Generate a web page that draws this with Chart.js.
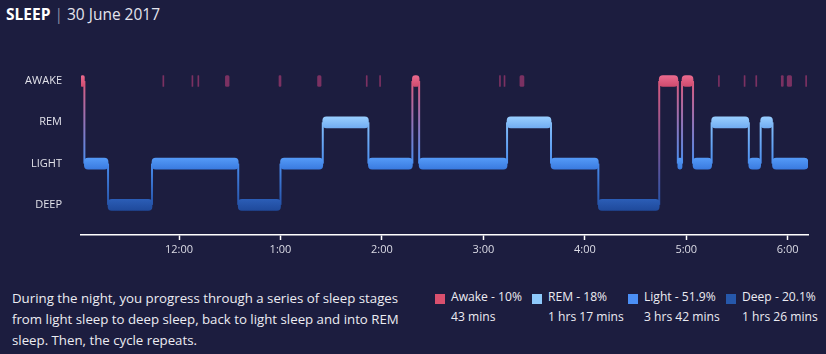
<!DOCTYPE html>
<html>
<head>
<meta charset="utf-8">
<script src="https://cdn.jsdelivr.net/npm/chart.js@4.4.0/dist/chart.umd.min.js"></script>
<style>
    html, body { margin: 0; padding: 0; background: #1c1d3f; }
    body { width: 826px; height: 354px; position: relative; overflow: hidden; font-family: 'Open Sans', sans-serif; color: #e8e8f0; }
    #title { position: absolute; left: 6px; top: 4px; font-size: 15.5px; line-height: 20px; color: #e4e4ee; white-space: nowrap; }
    #title b { color: #fff; font-weight: 700; }
    #title .sep { color: #8a8aa4; }
    #chart-wrap { position: absolute; left: 0; top: 0; width: 826px; height: 270px; }
    #note { position: absolute; left: 12px; top: 288px; width: 410px; font-size: 13.25px; line-height: 21px; color: #ececf2; }
    .legend-item { position: absolute; top: 287px; font-size: 12.1px; line-height: 20px; color: #ececf2; white-space: nowrap; }
    .legend-item .sw { position: absolute; left: 0; top: 7px; width: 10px; height: 10px; }
    .legend-item .txt { position: absolute; left: 16px; top: 0; }
</style>
</head>
<body>
<div id="title"><b>SLEEP</b> <span class="sep">|</span> 30 June 2017</div>
<div id="chart-wrap"><canvas id="sleepChart" width="826" height="270"></canvas></div>
<div id="note">During the night, you progress through a series of sleep stages from light sleep to deep sleep, back to light sleep and into REM sleep. Then, the cycle repeats.</div>
<div id="legend"></div>

<script>
// stages from bottom to top of the y axis
const stageNames = ['DEEP', 'LIGHT', 'REM', 'AWAKE'];

// main hypnogram: stage of each segment, boundaries in minutes after midnight
const segStages = ['AWAKE', 'LIGHT', 'DEEP', 'LIGHT', 'DEEP', 'LIGHT', 'REM', 'LIGHT', 'AWAKE', 'LIGHT',
    'REM', 'LIGHT', 'DEEP', 'AWAKE', 'LIGHT', 'AWAKE', 'LIGHT', 'REM', 'LIGHT', 'REM', 'LIGHT'];
const segBounds = [-58, -56, -42, -16, 35, 60, 85, 112, 138, 142, 194, 220, 248, 284, 295, 297.5, 304,
    315, 337, 344, 351, 372];

// short wakes shown as marks on the AWAKE row
const wakeStarts = [-9.6, 7.6, 11.1, 27.4, 59.1, 81.9, 110.7, 118.6, 189.5, 192.2, 201.6, 319.0, 334.2, 341.1, 356.2, 359.7, 370.6];
const wakeEnds = [-9.0, 8.2, 11.7, 29.6, 60.3, 84.0, 111.3, 119.2, 190.1, 192.8, 204.0, 319.6, 334.8, 341.7, 357.4, 362.3, 371.2];

// x axis
const tickValues = [0, 60, 120, 180, 240, 300, 360];
const tickLabels = ['12:00', '1:00', '2:00', '3:00', '4:00', '5:00', '6:00'];

// legend
const legendNames = ['Awake - 10%', 'REM - 18%', 'Light - 51.9%', 'Deep - 20.1%'];
const legendDurations = ['43 mins', '1 hrs 17 mins', '3 hrs 42 mins', '1 hrs 26 mins'];

const stageTop = { AWAKE: '#ea6a8e', REM: '#98ceff', LIGHT: '#549af7', DEEP: '#2b5db6' };
const stageBottom = { AWAKE: '#cf4b6e', REM: '#72adf2', LIGHT: '#3a7be0', DEEP: '#1f4a9c' };
const stageMid = { AWAKE: '#dc5a7e', REM: '#86bff9', LIGHT: '#4a8ef0', DEEP: '#2552a8' };
const legendColors = ['#d9506e', '#8ec9fb', '#4b8ff5', '#2658ab'];

function bandFill(c) {
    const chart = c.chart;
    const st = c.raw ? c.raw.stage : 'LIGHT';
    if (!chart.chartArea) return stageMid[st];
    const yc = chart.scales.y.getPixelForValue(stageNames.indexOf(st));
    const g = chart.ctx.createLinearGradient(0, yc - 5.5, 0, yc + 5.5);
    g.addColorStop(0, stageTop[st]);
    g.addColorStop(1, stageBottom[st]);
    return g;
}

// vertical links between consecutive segments
const connectorPlugin = {
    id: 'connectors',
    beforeDatasetsDraw(chart) {
        const { ctx, scales: { x, y } } = chart;
        ctx.save();
        ctx.lineWidth = 2;
        for (let i = 1; i < segStages.length; i++) {
            const px = x.getPixelForValue(segBounds[i]);
            const y1 = y.getPixelForValue(stageNames.indexOf(segStages[i - 1]));
            const y2 = y.getPixelForValue(stageNames.indexOf(segStages[i]));
            const g = ctx.createLinearGradient(0, y1, 0, y2);
            g.addColorStop(0, stageMid[segStages[i - 1]]);
            g.addColorStop(1, stageMid[segStages[i]]);
            ctx.strokeStyle = g;
            ctx.beginPath();
            ctx.moveTo(px, y1);
            ctx.lineTo(px, y2);
            ctx.stroke();
        }
        ctx.restore();
    }
};

function buildLegend() {
    const xs = [435, 532, 628, 726];
    const box = document.getElementById('legend');
    legendNames.forEach((name, i) => {
        const item = document.createElement('div');
        item.className = 'legend-item';
        item.style.left = xs[i] + 'px';
        item.innerHTML = '<span class="sw" style="background:' + legendColors[i] + '"></span>' +
            '<span class="txt">' + name + '<br>' + legendDurations[i] + '</span>';
        box.appendChild(item);
    });
}

document.addEventListener('DOMContentLoaded', function() {
    buildLegend();

    const segments = segStages.map((st, i) => ({
        x: [segBounds[i], segBounds[i + 1]],
        y: stageNames.indexOf(st),
        stage: st
    }));
    const wakes = wakeStarts.map((s, i) => ({
        x: [s, wakeEnds[i]],
        y: stageNames.indexOf('AWAKE')
    }));

    new Chart(document.getElementById('sleepChart'), {
        type: 'bar',
        data: {
            datasets: [{
                label: 'Short wakes',
                data: wakes,
                backgroundColor: '#7b3162',
                borderSkipped: false,
                borderRadius: 1.5,
                barThickness: 11,
                grouped: false
            }, {
                label: 'Sleep stages',
                data: segments,
                backgroundColor: bandFill,
                borderSkipped: false,
                borderRadius: 4,
                barThickness: 11,
                grouped: false
            }]
        },
        options: {
            indexAxis: 'y',
            responsive: false,
            animation: false,
            layout: { padding: { top: 60.4, right: 18, left: 0, bottom: 0 } },
            plugins: {
                legend: { display: false },
                tooltip: { enabled: false }
            },
            scales: {
                x: {
                    type: 'linear',
                    min: -58,
                    max: 372,
                    afterBuildTicks: (scale) => { scale.ticks = tickValues.map(v => ({ value: v })); },
                    afterFit: (scale) => { scale.height = 35; },
                    grid: { drawOnChartArea: false, drawTicks: true, tickLength: 5, color: '#ffffff', tickWidth: 1.5 },
                    border: { display: true, color: '#ffffff', width: 1.5 },
                    ticks: {
                        color: '#dcdce6',
                        padding: 3,
                        maxRotation: 0,
                        font: { family: 'Open Sans', size: 11 },
                        callback: (v) => tickLabels[tickValues.indexOf(v)]
                    }
                },
                y: {
                    type: 'linear',
                    offset: false,
                    min: -0.73,
                    max: 3.5,
                    afterBuildTicks: (scale) => { scale.ticks = [0, 1, 2, 3].map(v => ({ value: v })); },
                    afterFit: (scale) => { scale.width = 81; },
                    grid: { display: false, drawTicks: false, offset: false },
                    border: { display: false },
                    ticks: {
                        color: '#e2e2ea',
                        padding: 19,
                        font: { family: 'Open Sans', size: 11 },
                        callback: (v) => stageNames[v]
                    }
                }
            }
        },
        plugins: [connectorPlugin]
    });
});
</script>
</body>
</html>
